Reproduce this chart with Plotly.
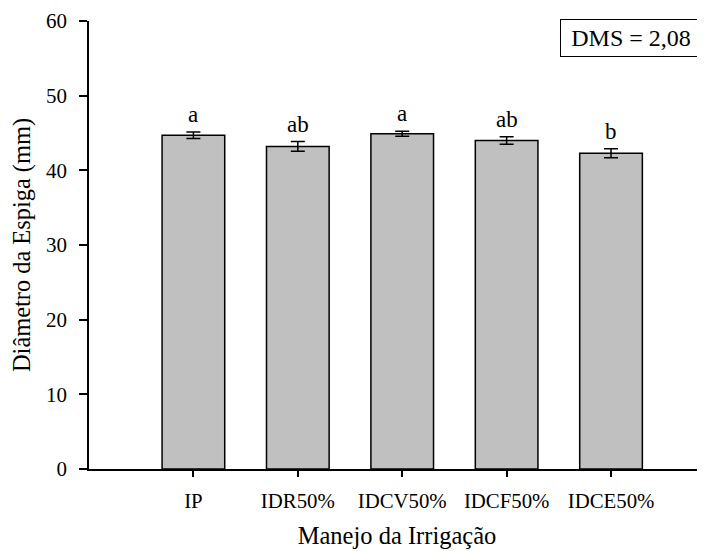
import plotly.graph_objects as go

categories = ["IP", "IDR50%", "IDCV50%", "IDCF50%", "IDCE50%"]
means = [44.7, 43.2, 44.9, 44.0, 42.3]
errors = [0.45, 0.65, 0.35, 0.5, 0.6]
letters = ["a", "ab", "a", "ab", "b"]
y_ticks = [0, 10, 20, 30, 40, 50, 60]
dms_text = "DMS = 2,08"

FONT = "Liberation Serif, Times New Roman, serif"

fig = go.Figure()
fig.add_trace(go.Bar(
    x=list(range(len(categories))), y=means, width=0.6,
    marker=dict(color="#c0c0c0", line=dict(color="black", width=1.5)),
    error_y=dict(type="data", array=errors, visible=True, color="black",
                 thickness=1.5, width=7),
    showlegend=False,
))

for i, (m, e, l) in enumerate(zip(means, errors, letters)):
    fig.add_annotation(x=i, y=m + e, text=l, showarrow=False, yanchor="bottom",
                       yshift=3, font=dict(family=FONT, size=23, color="black"))

fig.add_annotation(xref="paper", yref="paper", x=1.0, y=1.0, xanchor="right",
                   yanchor="top", yshift=2, xshift=-3, text=dms_text, showarrow=False,
                   bordercolor="black", borderwidth=1, borderpad=3,
                   width=134, height=30, bgcolor="white",
                   font=dict(family=FONT, size=24, color="black"))

fig.update_layout(
    width=705, height=551,
    margin=dict(l=81, r=8, t=13, b=90, autoexpand=False),
    plot_bgcolor="white", paper_bgcolor="white",
    font=dict(family=FONT, color="black"),
    xaxis=dict(
        range=[-1.0, 4.9], tickmode="array",
        tickvals=list(range(len(categories))), ticktext=categories,
        showline=True, linecolor="black", linewidth=1.5,
        ticks="outside", ticklen=6, tickwidth=1.5, tickcolor="black",
        ticklabelstandoff=6,
        showgrid=False, zeroline=False, automargin=False,
        tickfont=dict(family=FONT, size=20.8, color="black"),
        title=dict(text="Manejo da Irrigação", standoff=16,
                   font=dict(family=FONT, size=24.5, color="black")),
    ),
    yaxis=dict(
        range=[0, 60], tickmode="array", tickvals=y_ticks,
        showline=True, linecolor="black", linewidth=1.5,
        ticks="outside", ticklen=8, tickwidth=1.5, tickcolor="black",
        ticklabelstandoff=8,
        showgrid=False, zeroline=False, automargin=False,
        tickfont=dict(family=FONT, size=21, color="black"),
        title=dict(text="Diâmetro da Espiga (mm)", standoff=9,
                   font=dict(family=FONT, size=24.4, color="black")),
    ),
)

fig.write_html("out.html")
